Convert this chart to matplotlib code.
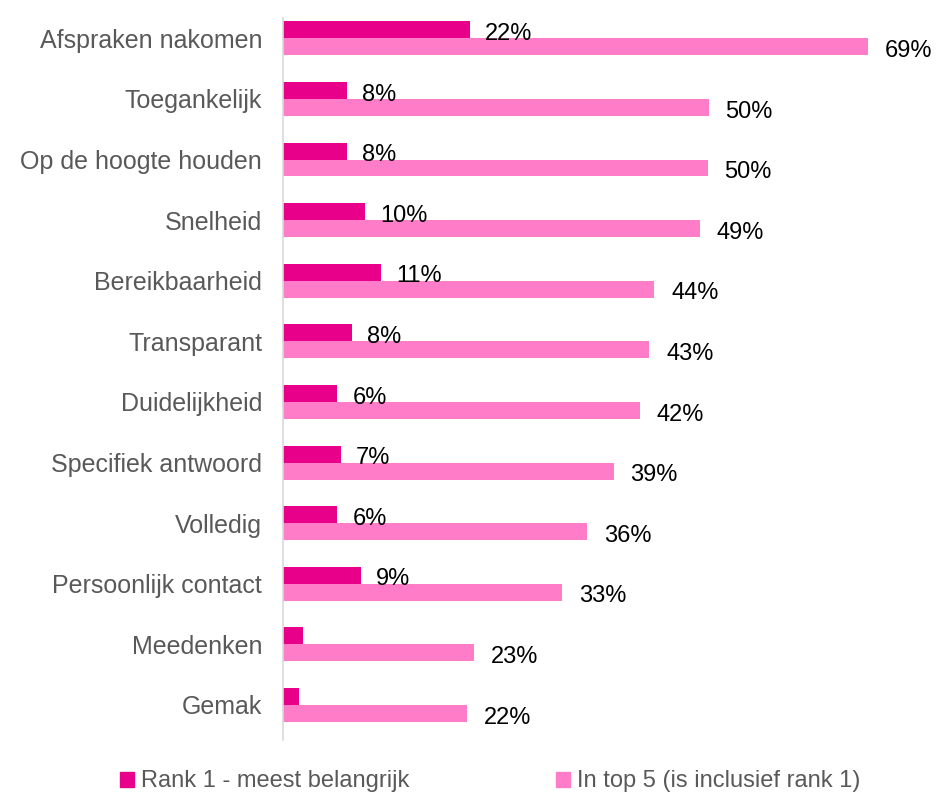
import matplotlib.pyplot as plt
import numpy as np
from matplotlib.patches import Patch

plt.rcParams['font.family'] = ['Liberation Sans', 'DejaVu Sans']

# data
categories = ["Afspraken nakomen", "Toegankelijk", "Op de hoogte houden", "Snelheid",
              "Bereikbaarheid", "Transparant", "Duidelijkheid", "Specifiek antwoord",
              "Volledig", "Persoonlijk contact", "Meedenken", "Gemak"]
rank1 = [22, 7.5, 7.5, 9.7, 11.5, 8.1, 6.4, 6.8, 6.4, 9.2, 2.4, 1.9]
top5 = [69, 50.2, 50.1, 49.2, 43.8, 43.2, 42.1, 39.0, 35.9, 32.9, 22.5, 21.7]
rank1_labels = ["22%", "8%", "8%", "10%", "11%", "8%", "6%", "7%", "6%", "9%", "", ""]
top5_labels = ["69%", "50%", "50%", "49%", "44%", "43%", "42%", "39%", "36%", "33%", "23%", "22%"]

c_dark = "#E8008A"
c_light = "#FF7DC8"
grey = "#595959"

fig = plt.figure(figsize=(9.36, 7.95), dpi=100)
ax = fig.add_axes([0.3024, 0.069, 0.6795, 0.908])

y = np.arange(len(categories))
h = 0.28
ax.barh(y - h / 2, rank1, height=h, color=c_dark)
ax.barh(y + h / 2, top5, height=h, color=c_light)

# data labels
for i in range(len(categories)):
    if rank1_labels[i]:
        ax.annotate(rank1_labels[i], (rank1[i], y[i] - h / 2), xytext=(11, -3),
                    textcoords="offset points", va="center", ha="left",
                    fontsize=17, color="black")
    ax.annotate(top5_labels[i], (top5[i], y[i] + h / 2), xytext=(12, -3),
                textcoords="offset points", va="center", ha="left",
                fontsize=17, color="black")

ax.set_xlim(0, 75)
ax.set_ylim(11.58, -0.33)
ax.set_yticks(y)
ax.set_yticklabels(categories, fontsize=18, color=grey)
ax.tick_params(axis="y", length=0, pad=15)
ax.set_xticks([])
for s in ["top", "right", "bottom"]:
    ax.spines[s].set_visible(False)
ax.spines["left"].set_color("#D9D9D9")
ax.spines["left"].set_linewidth(1.2)

handles = [Patch(color=c_dark, label="Rank 1 - meest belangrijk"),
           Patch(color=c_light, label="In top 5 (is inclusief rank 1)")]
leg = fig.legend(handles=handles, loc="center", bbox_to_anchor=(0.524, 0.017), ncol=2,
                 frameon=False, fontsize=17, handlelength=0.6, handleheight=0.6,
                 handletextpad=0.3, columnspacing=6.2)
for t in leg.get_texts():
    t.set_color(grey)

fig.savefig("out.png", dpi=100)
